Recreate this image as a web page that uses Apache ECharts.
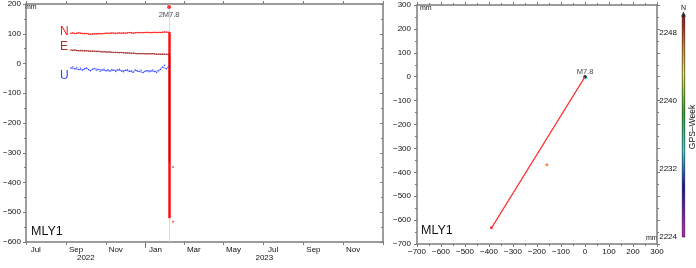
<!DOCTYPE html>
<html>
<head>
<meta charset="utf-8">
<script src="https://cdn.jsdelivr.net/npm/echarts@6/dist/echarts.min.js"></script>
<style>html,body{margin:0;padding:0;background:#fff}#c{width:696px;height:268px}</style>
</head>
<body>
<div id="c"></div>
<script>
// ---------- data ----------
const startDate = '2022-09-08';      // first daily solution shown
const stepDays = 3;                  // sampling step of the arrays below
const quakeDate = '2023-02-06';
const postDate = '2023-02-12';
const quakeLabel = '2M7.8';
const N = [102,103,101,102,103,102,101,100,101,99,98,99,100,99,100,101,100,101,102,101,102,103,102,101,102,103,102,103,102,103,104,103,102,103,104,103,104,103,104,105,104,103,104,105,104,105,104,105,106,105,105];
const E = [45,44,45,44,43,44,43,42,43,42,41,42,41,40,41,40,39,40,39,38,39,38,37,38,37,36,37,36,35,36,35,34,35,34,33,34,33,34,33,32,33,32,33,32,31,32,31,32,31,30,31];
const U = [-15,-12,-18,-14,-20,-16,-22,-18,-15,-21,-24,-19,-17,-23,-20,-26,-22,-19,-24,-21,-25,-20,-23,-27,-22,-19,-25,-28,-23,-21,-26,-24,-29,-22,-25,-27,-23,-30,-26,-24,-28,-25,-22,-27,-30,-24,-20,-12,-6,-18,-10];
const jumpEnd = {N: -520, E: -335, U: -22};   // co-seismic arrow tips
const postVal = {N: -532, E: -348};          // first post-seismic solution
const monthNames = ['Jan','Feb','Mar','Apr','May','Jun','Jul','Aug','Sep','Oct','Nov','Dec'];
const axisStart = '2022-07-01', axisEnd = '2024-01-01';
const yTicksLeft = {min: -600, max: 200, step: 100};
const xyRange = {min: -700, max: 300, step: 100};
// horizontal plane (E, N) relative to pre-event position
const hzPre = [[2, -3]];
const hzQuake = [[0, 0]];
const hzVector = [[0, 0], [-387, -629]];
const hzOutlier = [[-159, -368]];
const hzEnd = [[-390, -632]];
const quakeMark = 'M7.8';
const weekRange = {min: 2224, max: 2250, step: 8};

// ---------- helpers ----------
const DAY = 86400000;
const T = s => Date.parse(s + 'T00:00:00Z');
const t0 = T(startDate), tq = T(quakeDate), tp = T(postDate);
const T0 = T(axisStart), T1 = T(axisEnd);
const toSeries = arr => arr.map((v, i) => [t0 + i * stepDays * DAY, v]);
const minus = v => (v < 0 ? '\u2212' + (-v) : '' + v);
// month ticks (every 2 months) and mid-month labels
const tickVals = [], labelVals = [];
for (let y = 2022, m = 6; ; m += 2) {
  if (m > 11) { m -= 12; y++; }
  const a = Date.UTC(y, m, 1);
  if (a > T1) break;
  tickVals.push(a);
  if (a < T1) labelVals.push(Date.UTC(y, m, 16));
}
const yearBoundary = Date.UTC(2023, 0, 1);
const yearLabelVals = [(T0 + yearBoundary) / 2, (yearBoundary + T1) / 2];

const FONT = 'Liberation Sans';
const FRAME = '#7c7c7c';
const lineStyle = {color: FRAME, width: 1.5};
const axisLine = {show: true, onZero: false, lineStyle};
const tickStyle = {color: FRAME, width: 1};
const lbl = {fontFamily: FONT, fontSize: 8, color: '#111'};

const chart = echarts.init(document.getElementById('c'), null, {renderer: 'canvas'});

const option = {
  animation: false,
  backgroundColor: '#fff',
  textStyle: {fontFamily: FONT},
  grid: [
    {left: 23, top: 4, width: 360, height: 238},
    {left: 417, top: 5, width: 240, height: 239},
    {left: 682, top: 16, width: 3, height: 221}
  ],
  xAxis: [
    {gridIndex: 0, type: 'value', min: T0, max: T1, position: 'bottom',
     axisLine, splitLine: {show: false},
     axisTick: {customValues: tickVals, length: 3, lineStyle: tickStyle},
     axisLabel: Object.assign({customValues: labelVals, margin: 4,
       formatter: v => monthNames[new Date(v).getUTCMonth()]}, lbl)},
    {gridIndex: 0, type: 'value', min: T0, max: T1, position: 'bottom',
     axisLine: {show: false, onZero: false}, splitLine: {show: false},
     axisTick: {customValues: [yearBoundary], length: 6, lineStyle: tickStyle},
     axisLabel: Object.assign({customValues: yearLabelVals, margin: 11.5,
       formatter: v => '' + new Date(v).getUTCFullYear()}, lbl)},
    {gridIndex: 0, type: 'value', min: T0, max: T1, position: 'top',
     axisLine, splitLine: {show: false},
     axisTick: {customValues: tickVals, length: 3, lineStyle: tickStyle},
     axisLabel: {show: false}},
    {gridIndex: 1, type: 'value', min: xyRange.min, max: xyRange.max, interval: xyRange.step, position: 'bottom',
     axisLine, splitLine: {show: false},
     axisTick: {length: 3, lineStyle: tickStyle},
     minorTick: {show: true, splitNumber: 2, length: 2, lineStyle: tickStyle},
     axisLabel: Object.assign({margin: 4, formatter: minus}, lbl)},
    {gridIndex: 1, type: 'value', min: xyRange.min, max: xyRange.max, interval: xyRange.step, position: 'top',
     axisLine, splitLine: {show: false},
     axisTick: {length: 3, lineStyle: tickStyle},
     minorTick: {show: true, splitNumber: 2, length: 2, lineStyle: tickStyle},
     axisLabel: {show: false}},
    {gridIndex: 2, type: 'category', data: ['c'], show: false}
  ],
  yAxis: [
    {gridIndex: 0, type: 'value', min: yTicksLeft.min, max: yTicksLeft.max, interval: yTicksLeft.step, position: 'left',
     axisLine, splitLine: {show: false},
     axisTick: {show: true, length: 3, lineStyle: tickStyle},
     minorTick: {show: true, splitNumber: 2, length: 2, lineStyle: tickStyle},
     axisLabel: Object.assign({margin: 5, formatter: minus}, lbl)},
    {gridIndex: 0, type: 'value', min: yTicksLeft.min, max: yTicksLeft.max, interval: yTicksLeft.step, position: 'right',
     axisLine, splitLine: {show: false},
     axisTick: {show: true, inside: true, length: 3, lineStyle: tickStyle},
     minorTick: {show: true, splitNumber: 2, length: 2, lineStyle: tickStyle},
     axisLabel: {show: false}},
    {gridIndex: 1, type: 'value', min: xyRange.min, max: xyRange.max, interval: xyRange.step, position: 'left',
     axisLine, splitLine: {show: false},
     axisTick: {show: true, length: 3, lineStyle: tickStyle},
     minorTick: {show: true, splitNumber: 2, length: 2, lineStyle: tickStyle},
     axisLabel: Object.assign({margin: 6, formatter: minus}, lbl)},
    {gridIndex: 1, type: 'value', min: xyRange.min, max: xyRange.max, interval: xyRange.step, position: 'right',
     axisLine, splitLine: {show: false},
     axisTick: {show: true, length: 3, lineStyle: tickStyle},
     minorTick: {show: true, splitNumber: 2, length: 2, lineStyle: tickStyle},
     axisLabel: {show: false}},
    {gridIndex: 2, type: 'value', min: weekRange.min, max: weekRange.max, interval: weekRange.step, position: 'left',
     axisLine: {show: false, onZero: false}, splitLine: {show: false}, axisTick: {show: false},
     axisLabel: Object.assign({margin: 5, showMaxLabel: false, formatter: v => '' + v}, lbl)}
  ],
  series: [
    // earthquake marker line + top dot + label
    {type: 'scatter', xAxisIndex: 0, yAxisIndex: 0, data: [[tq, 190]], symbolSize: 4,
     itemStyle: {color: '#ff0000'}, z: 1,
     label: {show: true, position: 'bottom', distance: 2, formatter: quakeLabel, fontSize: 7.5, fontFamily: FONT, color: '#111'},
     markLine: {silent: true, symbol: 'none', label: {show: false}, z: 1,
       lineStyle: {color: '#f7cccc', width: 1, type: 'solid'}, data: [{xAxis: tq}]}},
    // N
    {type: 'line', name: 'N', xAxisIndex: 0, yAxisIndex: 0, data: toSeries(N),
     symbol: 'circle', symbolSize: 1.5, lineStyle: {color: '#ff2020', width: 0.8},
     itemStyle: {color: '#ff2020'}, z: 3,
     markLine: {silent: true, z: 3, symbol: ['none', 'arrow'], symbolSize: [0, 7], label: {show: false},
       lineStyle: {color: '#ff1010', width: 2.5, type: 'solid'},
       data: [[{coord: [tq, N[N.length - 1]]}, {coord: [tq, jumpEnd.N]}]]}},
    {type: 'scatter', xAxisIndex: 0, yAxisIndex: 0, data: [[tp, postVal.N]], symbolSize: 2,
     itemStyle: {color: '#ff2020'}, z: 3},
    // E
    {type: 'line', name: 'E', xAxisIndex: 0, yAxisIndex: 0, data: toSeries(E),
     symbol: 'circle', symbolSize: 1.5, lineStyle: {color: '#a83030', width: 0.8},
     itemStyle: {color: '#a83030'}, z: 4,
     markLine: {silent: true, z: 8, symbol: ['none', 'arrow'], symbolSize: [0, 6], label: {show: false},
       lineStyle: {color: '#8a2020', width: 1.3, type: 'solid'},
       data: [[{coord: [tq, E[E.length - 1]]}, {coord: [tq, jumpEnd.E]}]]}},
    {type: 'scatter', xAxisIndex: 0, yAxisIndex: 0, data: [[tp, postVal.E]], symbolSize: 2,
     itemStyle: {color: '#d04040'}, z: 4},
    // U
    {type: 'line', name: 'U', xAxisIndex: 0, yAxisIndex: 0, data: toSeries(U),
     symbol: 'circle', symbolSize: 1.5, lineStyle: {color: '#3a4cff', width: 0.7},
     itemStyle: {color: '#3a4cff'}, z: 5,
     markLine: {silent: true, z: 9, symbol: ['none', 'arrow'], symbolSize: [0, 6], label: {show: false},
       lineStyle: {color: '#2030ff', width: 1, type: 'solid'},
       data: [[{coord: [tq, U[U.length - 1]]}, {coord: [tq, jumpEnd.U]}]]}},
    // horizontal plane
    {type: 'scatter', xAxisIndex: 3, yAxisIndex: 2, data: hzPre, symbolSize: 4,
     itemStyle: {color: '#22d8e8'}, z: 3},
    {type: 'line', xAxisIndex: 3, yAxisIndex: 2, data: hzVector, showSymbol: false,
     lineStyle: {color: '#ff1a1a', width: 1.1}, z: 2,
     markLine: {silent: true, symbol: ['none', 'arrow'], symbolSize: [0, 7], label: {show: false},
       lineStyle: {color: '#ff4040', width: 1, type: 'solid'},
       data: [[{coord: hzVector[0]}, {coord: hzVector[1]}]]}},
    {type: 'scatter', xAxisIndex: 3, yAxisIndex: 2, data: hzOutlier, symbolSize: 3,
     itemStyle: {color: '#ff6a00'}, z: 3},
    {type: 'scatter', xAxisIndex: 3, yAxisIndex: 2, data: hzEnd, symbolSize: 3,
     itemStyle: {color: '#ff0000'}, z: 3},
    {type: 'scatter', xAxisIndex: 3, yAxisIndex: 2, data: hzQuake, symbolSize: 3.5,
     itemStyle: {color: '#000'}, z: 4,
     label: {show: true, position: 'top', distance: -1, formatter: quakeMark, fontSize: 7.5, fontFamily: FONT, color: '#111'}},
    // colour bar
    {type: 'bar', xAxisIndex: 5, yAxisIndex: 4, data: [weekRange.max], barWidth: '100%',
     itemStyle: {borderColor: '#000', borderWidth: 0.6,
       color: new echarts.graphic.LinearGradient(0, 0, 0, 1, [
         {offset: 0, color: '#d00000'}, {offset: 0.04, color: '#ff0000'},
         {offset: 0.14, color: '#ff8000'}, {offset: 0.26, color: '#ffff00'},
         {offset: 0.44, color: '#00d000'}, {offset: 0.61, color: '#00ffff'},
         {offset: 0.77, color: '#0000ff'}, {offset: 0.92, color: '#c000ff'},
         {offset: 1, color: '#ff00ff'}])}},
    {type: 'scatter', xAxisIndex: 5, yAxisIndex: 4, data: [['c', weekRange.max]], symbol: 'triangle',
     symbolSize: [5, 5], symbolOffset: [0, -2], itemStyle: {color: '#000'}, z: 5}
  ],
  graphic: [
    {type: 'text', left: 25, top: 4, style: {text: 'mm', font: '7px ' + FONT, fill: '#111'}},
    {type: 'text', left: 420, top: 5, style: {text: 'mm', font: '7px ' + FONT, fill: '#111'}},
    {type: 'text', left: 646, top: 235, style: {text: 'mm', font: '7px ' + FONT, fill: '#111'}},
    {type: 'text', left: 31, top: 225, style: {text: 'MLY1', font: '12.5px ' + FONT, fill: '#111'}},
    {type: 'text', left: 421, top: 224, style: {text: 'MLY1', font: '12.5px ' + FONT, fill: '#111'}},
    {type: 'text', left: 60, top: 26, style: {text: 'N', font: '12px ' + FONT, fill: '#ff1a1a'}},
    {type: 'text', left: 60, top: 41, style: {text: 'E', font: '12px ' + FONT, fill: '#a83030'}},
    {type: 'text', left: 60, top: 70, style: {text: 'U', font: '12px ' + FONT, fill: '#2a3cff'}},
    {type: 'text', left: 681, top: 5, style: {text: 'N', font: '7px ' + FONT, fill: '#111'}},
    {type: 'text', x: 693, y: 127, rotation: Math.PI / 2,
     style: {text: 'GPS\u2013Week', font: '8.5px ' + FONT, fill: '#111', align: 'center', verticalAlign: 'middle'}}
  ]
};
chart.setOption(option);
</script>
</body>
</html>
